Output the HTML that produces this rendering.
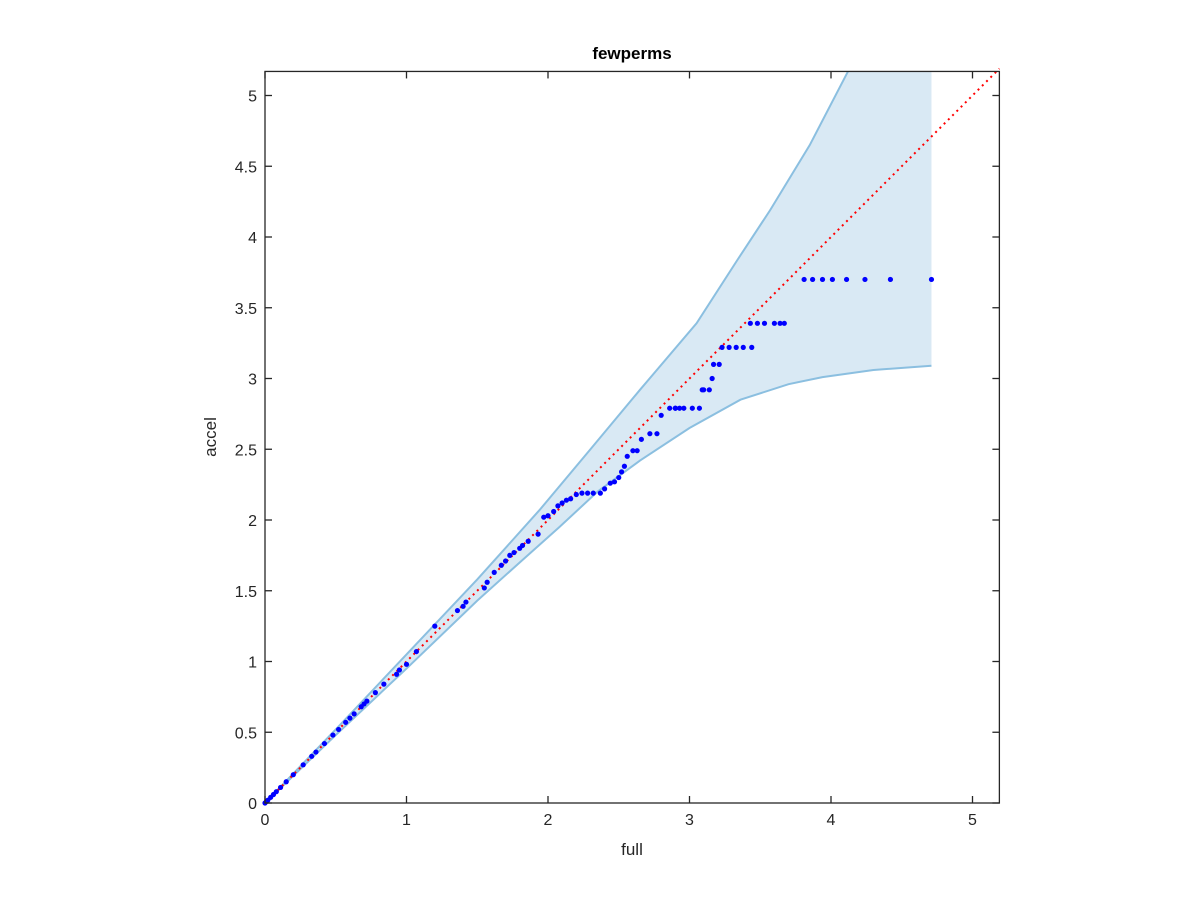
<!DOCTYPE html>
<html><head><meta charset="utf-8"><style>
body{margin:0;background:#fff;}
svg text{font-family:"Liberation Sans",Arial,sans-serif;fill:#262626;}
</style></head><body>
<svg id="chart" width="1200" height="900" xmlns="http://www.w3.org/2000/svg">
<rect width="1200" height="900" fill="#fff"/>
<g id="band"></g>
<g id="diag"></g>
<g id="pts"></g>
<g id="axes"></g>
<text x="632" y="59" text-anchor="middle" font-size="17" font-weight="bold" style="fill:#000">fewperms</text>
<text x="632" y="855" text-anchor="middle" font-size="17">full</text>
<text x="0" y="0" transform="translate(216,437) rotate(-90)" text-anchor="middle" font-size="17">accel</text>
</svg>
<script>
const xTicks=[0,1,2,3,4,5];
const yTicks=[0,0.5,1,1.5,2,2.5,3,3.5,4,4.5,5];
const upperX=[0,0.5,1,1.5,1.94,2.3,2.65,3.05,3.34,3.57,3.85,4.12];
const upperY=[0,0.52,1.05,1.58,2.07,2.5,2.92,3.39,3.84,4.19,4.65,5.17];
const lowerX=[0,0.5,1,1.5,1.8,2.08,2.35,2.65,3.0,3.36,3.7,3.94,4.3,4.71];
const lowerY=[0,0.48,0.95,1.43,1.7,1.95,2.2,2.42,2.65,2.85,2.96,3.01,3.06,3.09];
const ptX=[0,0.01,0.02,0.04,0.06,0.08,0.11,0.15,0.2,0.27,0.33,0.36,0.42,0.48,0.52,0.57,0.6,0.63,0.68,0.7,0.72,0.78,0.84,0.93,0.95,1.0,1.07,1.2,1.36,1.4,1.42,1.55,1.57,1.62,1.67,1.7,1.73,1.76,1.8,1.82,1.86,1.93,1.97,2.0,2.04,2.07,2.1,2.13,2.16,2.2,2.24,2.28,2.32,2.37,2.4,2.44,2.47,2.5,2.52,2.54,2.56,2.6,2.63,2.66,2.72,2.77,2.8,2.86,2.9,2.9,2.93,2.96,3.02,3.07,3.09,3.1,3.14,3.16,3.17,3.21,3.23,3.28,3.33,3.38,3.44,3.43,3.48,3.53,3.6,3.64,3.67,3.81,3.87,3.94,4.01,4.11,4.24,4.42,4.71];
const ptY=[0,0.01,0.02,0.04,0.06,0.08,0.11,0.15,0.2,0.27,0.33,0.36,0.42,0.48,0.52,0.57,0.6,0.63,0.68,0.7,0.72,0.78,0.84,0.91,0.94,0.98,1.07,1.25,1.36,1.39,1.42,1.52,1.56,1.63,1.68,1.71,1.75,1.77,1.8,1.82,1.85,1.9,2.02,2.03,2.06,2.1,2.12,2.14,2.15,2.18,2.19,2.19,2.19,2.19,2.22,2.26,2.27,2.3,2.34,2.38,2.45,2.49,2.49,2.57,2.61,2.61,2.74,2.79,2.79,2.79,2.79,2.79,2.79,2.79,2.92,2.92,2.92,3.0,3.1,3.1,3.22,3.22,3.22,3.22,3.22,3.39,3.39,3.39,3.39,3.39,3.39,3.7,3.7,3.7,3.7,3.7,3.7,3.7,3.7];
const X0=265,Y0=803,S=141.5,XMAX=5.19,YMAX=5.17;
const sx=v=>X0+v*S, sy=v=>Y0-v*S;
const NS="http://www.w3.org/2000/svg";
function mk(tag,attrs,parent){const e=document.createElementNS(NS,tag);for(const k in attrs)e.setAttribute(k,attrs[k]);parent.appendChild(e);return e;}
// band
let d="M"+upperX.map((x,i)=>sx(x)+","+sy(upperY[i])).join(" L");
d+=" L"+sx(4.71)+","+sy(YMAX)+" L"+sx(4.71)+","+sy(lowerY[lowerY.length-1]);
for(let i=lowerX.length-1;i>=0;i--)d+=" L"+sx(lowerX[i])+","+sy(lowerY[i]);
const band=document.getElementById('band');
const poly=mk('path',{d:d+"Z",fill:"#d9e9f4",stroke:"none"},band);


const up=mk('path',{d:"M"+upperX.map((x,i)=>sx(x)+","+sy(upperY[i])).join(" L"),fill:"none",stroke:"#8bbfe0","stroke-width":2},band);


const lo=mk('path',{d:"M"+lowerX.map((x,i)=>sx(x)+","+sy(lowerY[i])).join(" L"),fill:"none",stroke:"#8bbfe0","stroke-width":2},band);


// diagonal
const dl=mk('line',{x1:sx(0),y1:sy(0),x2:sx(XMAX),y2:sy(XMAX),stroke:"#ff0000","stroke-width":2,"stroke-dasharray":"2,4"},document.getElementById('diag'));


// points
const pg=document.getElementById('pts');
ptX.forEach((x,i)=>{const c=mk('circle',{cx:sx(x),cy:sy(ptY[i]),r:2.6,fill:"#0000ff"},pg);

});
// axes
const ax=document.getElementById('axes');
const fr=mk('rect',{x:X0,y:sy(YMAX),width:XMAX*S,height:YMAX*S,fill:"none",stroke:"#262626","stroke-width":1.3},ax);


const R=sx(XMAX),T=sy(YMAX);
xTicks.forEach(t=>{const x=sx(t);
mk('line',{x1:x,y1:Y0,x2:x,y2:Y0-7,stroke:"#262626","stroke-width":1.3},ax);
mk('line',{x1:x,y1:T,x2:x,y2:T+7,stroke:"#262626","stroke-width":1.3},ax);
const tl=mk('text',{x:x,y:Y0+22,"text-anchor":"middle","font-size":16},ax);tl.textContent=t;

});
yTicks.forEach(t=>{const y=sy(t);
mk('line',{x1:X0,y1:y,x2:X0+7,y2:y,stroke:"#262626","stroke-width":1.3},ax);
mk('line',{x1:R,y1:y,x2:R-7,y2:y,stroke:"#262626","stroke-width":1.3},ax);
const tl=mk('text',{x:X0-8,y:y+6,"text-anchor":"end","font-size":16},ax);tl.textContent=t;

});
</script>
</body></html>
